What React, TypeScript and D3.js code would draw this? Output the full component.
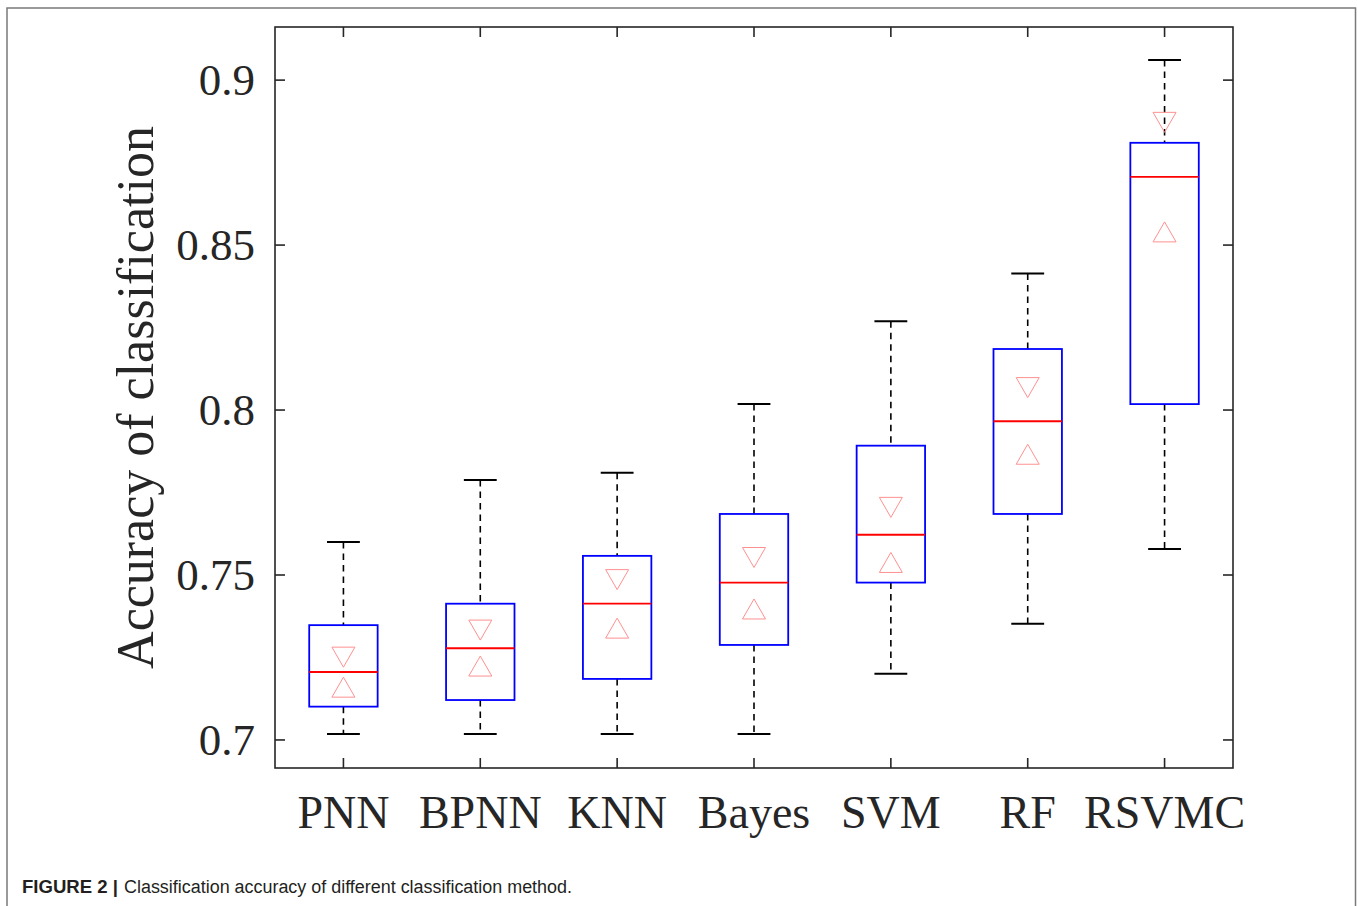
import React, { useRef, useEffect } from 'react';
import * as d3 from 'd3';

const methods = ['PNN', 'BPNN', 'KNN', 'Bayes', 'SVM', 'RF', 'RSVMC'];
const whiskerHigh = [0.760, 0.7788, 0.781, 0.8018, 0.8269, 0.8414, 0.9061];
const q3 = [0.7348, 0.7413, 0.7558, 0.7685, 0.7892, 0.8185, 0.881];
const medians = [0.7206, 0.7278, 0.7413, 0.7477, 0.7622, 0.7966, 0.8707];
const q1 = [0.7101, 0.7121, 0.7185, 0.7288, 0.7477, 0.7685, 0.8018];
const whiskerLow = [0.7018, 0.7018, 0.7018, 0.7018, 0.7201, 0.7352, 0.7579];
const notchHigh = [0.7251, 0.7333, 0.7486, 0.7553, 0.7705, 0.8068, 0.8872];
const notchLow = [0.716, 0.7224, 0.7339, 0.7397, 0.7538, 0.7866, 0.854];
const yTicks = [0.7, 0.75, 0.8, 0.85, 0.9];
const yTickLabels = ['0.7', '0.75', '0.8', '0.85', '0.9'];

const BoxChart = () => {
  const ref = useRef<SVGSVGElement>(null);

  useEffect(() => {
    const svg = d3.select(ref.current);
    svg.selectAll('*').remove();

    const left = 275, right = 1233, top = 27, bottom = 768;
    const axisColor = '#262626';
    const serif = '"Liberation Serif", "Times New Roman", serif';

    const x = d3.scaleBand<string>().domain(methods).range([left, right]);
    const y = d3.scaleLinear().domain([0.6915, 0.9161]).range([bottom, top]);
    const cx = (m: string) => (x(m) as number) + x.bandwidth() / 2;
    const boxW = x.bandwidth() * 0.5;
    const capW = x.bandwidth() * 0.24;

    // outer figure frame
    svg.append('rect')
      .attr('x', 7).attr('y', 8).attr('width', 1348.5).attr('height', 960)
      .attr('fill', 'none').attr('stroke', '#7a7a7a').attr('stroke-width', 1.5);

    const data = methods.map((m, i) => ({
      m, hi: whiskerHigh[i], q3: q3[i], med: medians[i], q1: q1[i], lo: whiskerLow[i],
      nh: notchHigh[i], nl: notchLow[i],
    }));

    const g = svg.append('g');

    // whiskers
    g.selectAll('.wu').data(data).enter().append('line')
      .attr('x1', d => cx(d.m)).attr('x2', d => cx(d.m))
      .attr('y1', d => y(d.hi)).attr('y2', d => y(d.q3))
      .attr('stroke', '#000').attr('stroke-width', 1.6).attr('stroke-dasharray', '6.5,5');
    g.selectAll('.wl').data(data).enter().append('line')
      .attr('x1', d => cx(d.m)).attr('x2', d => cx(d.m))
      .attr('y1', d => y(d.q1)).attr('y2', d => y(d.lo))
      .attr('stroke', '#000').attr('stroke-width', 1.6).attr('stroke-dasharray', '6.5,5');

    // caps
    ['hi', 'lo'].forEach(k => {
      g.selectAll('.cap-' + k).data(data).enter().append('line')
        .attr('x1', d => cx(d.m) - capW / 2).attr('x2', d => cx(d.m) + capW / 2)
        .attr('y1', d => y((d as any)[k])).attr('y2', d => y((d as any)[k]))
        .attr('stroke', '#000').attr('stroke-width', 2);
    });

    // boxes
    g.selectAll('.box').data(data).enter().append('rect')
      .attr('x', d => cx(d.m) - boxW / 2).attr('width', boxW)
      .attr('y', d => y(d.q3)).attr('height', d => y(d.q1) - y(d.q3))
      .attr('fill', 'none').attr('stroke', '#0000ff').attr('stroke-width', 1.8);

    // medians
    g.selectAll('.med').data(data).enter().append('line')
      .attr('x1', d => cx(d.m) - boxW / 2).attr('x2', d => cx(d.m) + boxW / 2)
      .attr('y1', d => y(d.med)).attr('y2', d => y(d.med))
      .attr('stroke', '#ff0000').attr('stroke-width', 1.8);

    // notch markers
    const tw = 11.5, th = 10;
    g.selectAll('.tdown').data(data).enter().append('path')
      .attr('d', d => {
        const c = cx(d.m), v = y(d.nh);
        return `M${c - tw},${v - th}L${c + tw},${v - th}L${c},${v + th}Z`;
      })
      .attr('fill', 'none').attr('stroke', '#ff9090').attr('stroke-width', 1);
    g.selectAll('.tup').data(data).enter().append('path')
      .attr('d', d => {
        const c = cx(d.m), v = y(d.nl);
        return `M${c - tw},${v + th}L${c + tw},${v + th}L${c},${v - th}Z`;
      })
      .attr('fill', 'none').attr('stroke', '#ff9090').attr('stroke-width', 1);

    // axes box and ticks
    const ax = svg.append('g');
    ax.append('rect')
      .attr('x', left).attr('y', top).attr('width', right - left).attr('height', bottom - top)
      .attr('fill', 'none').attr('stroke', axisColor).attr('stroke-width', 1.6);
    const tl = 10;
    yTicks.forEach(t => {
      ax.append('line').attr('x1', left).attr('x2', left + tl).attr('y1', y(t)).attr('y2', y(t))
        .attr('stroke', axisColor).attr('stroke-width', 1.6);
      ax.append('line').attr('x1', right).attr('x2', right - tl).attr('y1', y(t)).attr('y2', y(t))
        .attr('stroke', axisColor).attr('stroke-width', 1.6);
    });
    methods.forEach(m => {
      ax.append('line').attr('x1', cx(m)).attr('x2', cx(m)).attr('y1', bottom).attr('y2', bottom - tl)
        .attr('stroke', axisColor).attr('stroke-width', 1.6);
      ax.append('line').attr('x1', cx(m)).attr('x2', cx(m)).attr('y1', top).attr('y2', top + tl)
        .attr('stroke', axisColor).attr('stroke-width', 1.6);
    });

    // tick labels
    ax.selectAll('.yl').data(yTicks).enter().append('text')
      .attr('x', left - 20).attr('y', d => y(d)).attr('dy', '0.34em')
      .attr('text-anchor', 'end').attr('font-family', serif).attr('font-size', 45)
      .attr('fill', axisColor).text((d, i) => yTickLabels[i]);
    ax.selectAll('.xl').data(methods).enter().append('text')
      .attr('x', d => cx(d)).attr('y', 828)
      .attr('text-anchor', 'middle').attr('font-family', serif).attr('font-size', 46)
      .attr('fill', axisColor).text(d => d);

    // y axis title
    svg.append('text')
      .attr('transform', `translate(153,${(top + bottom) / 2}) rotate(-90)`)
      .attr('text-anchor', 'middle').attr('font-family', serif).attr('font-size', 52)
      .attr('fill', axisColor).text('Accuracy of classification');

    // caption
    const cap = svg.append('text').attr('y', 893).attr('font-family', '"Liberation Sans", Arial, sans-serif')
      .attr('font-size', 18).attr('fill', '#231f20');
    cap.append('tspan').attr('x', 22).attr('font-weight', 'bold')
      .attr('textLength', 96).attr('lengthAdjust', 'spacingAndGlyphs').text('FIGURE 2 |');
    cap.append('tspan').attr('x', 124)
      .attr('textLength', 448).attr('lengthAdjust', 'spacingAndGlyphs')
      .text('Classification accuracy of different classification method.');
  }, []);

  return <svg ref={ref} width={1358} height={906} style={{ position: 'absolute', left: 0, top: 0 }} />;
};

export default function App() {
  return <BoxChart />;
}
